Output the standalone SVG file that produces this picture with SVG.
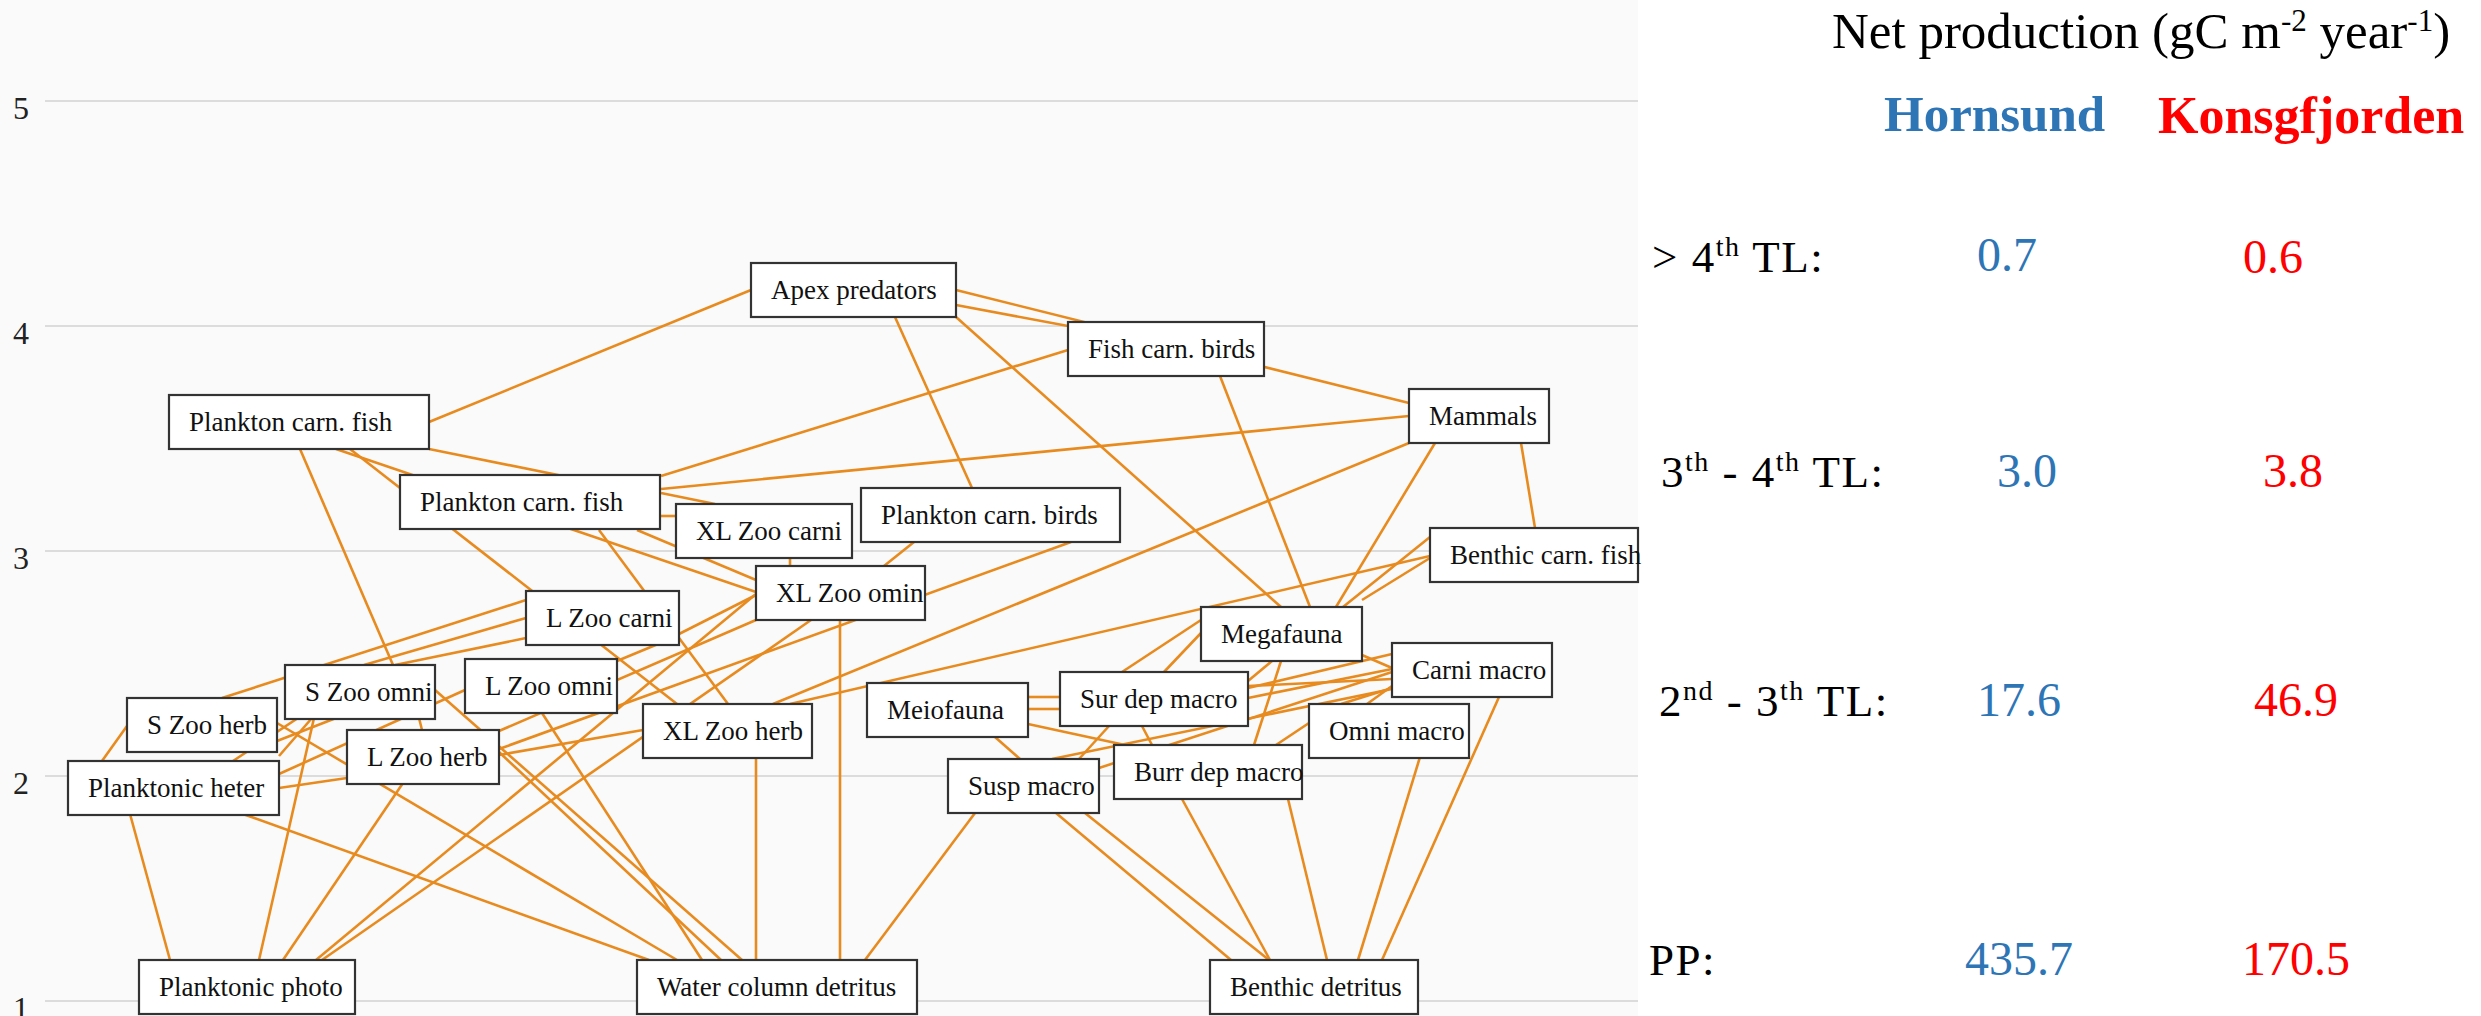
<svg xmlns="http://www.w3.org/2000/svg" width="2481" height="1016" viewBox="0 0 2481 1016">
<style>
.grid{stroke:#dcdcdc;stroke-width:2}
.edges line{stroke:#e88b1f;stroke-width:2.6}
.node rect{fill:#ffffff;stroke:#333333;stroke-width:2.2}
.node text{font-family:"Liberation Serif","Times New Roman",serif;font-size:27px;fill:#111}
.axis{font-family:"Liberation Serif",serif;font-size:32px;fill:#222}
.row{font-family:"Liberation Serif",serif;font-size:45px;fill:#000;letter-spacing:1.5px}
.num{font-family:"Liberation Serif",serif;font-size:48px}
.h{fill:#2e75b6}
.k{fill:#ff0000}
</style>
<rect x="0" y="0" width="2481" height="1016" fill="#ffffff"/>
<rect x="0" y="0" width="1638" height="1016" fill="#fafafa"/>
<g id="gridlines">
<line class="grid" x1="45" y1="101" x2="1638" y2="101"/>
<line class="grid" x1="45" y1="326" x2="1638" y2="326"/>
<line class="grid" x1="45" y1="551" x2="1638" y2="551"/>
<line class="grid" x1="45" y1="776" x2="1638" y2="776"/>
<line class="grid" x1="45" y1="1001" x2="1638" y2="1001"/>
</g>
<g id="axis-labels">
<text class="axis" x="13" y="119">5</text>
<text class="axis" x="13" y="344">4</text>
<text class="axis" x="13" y="569">3</text>
<text class="axis" x="13" y="794">2</text>
<text class="axis" x="13" y="1019">1</text>
</g>
<g id="connectors" class="edges">
<line x1="429" y1="422" x2="751" y2="290"/>
<line x1="429" y1="449" x2="563" y2="476"/>
<line x1="336" y1="449" x2="756" y2="592"/>
<line x1="350" y1="449" x2="677" y2="704"/>
<line x1="300" y1="449" x2="393" y2="665"/>
<line x1="956" y1="290" x2="1409" y2="403"/>
<line x1="956" y1="305" x2="1068" y2="326"/>
<line x1="895" y1="317" x2="972" y2="488"/>
<line x1="956" y1="317" x2="1281" y2="607"/>
<line x1="1068" y1="350" x2="661" y2="476"/>
<line x1="1220" y1="376" x2="1310" y2="607"/>
<line x1="1409" y1="416" x2="661" y2="489"/>
<line x1="1409" y1="443" x2="773" y2="704"/>
<line x1="1435" y1="443" x2="1336" y2="607"/>
<line x1="1521" y1="443" x2="1535" y2="528"/>
<line x1="1430" y1="537" x2="1343" y2="607"/>
<line x1="1430" y1="558" x2="1362" y2="600"/>
<line x1="1430" y1="556" x2="790" y2="704"/>
<line x1="914" y1="542" x2="884" y2="566"/>
<line x1="1071" y1="542" x2="499" y2="749"/>
<line x1="790" y1="557" x2="790" y2="566"/>
<line x1="660" y1="516" x2="676" y2="516"/>
<line x1="637" y1="530" x2="756" y2="580"/>
<line x1="599" y1="530" x2="728" y2="704"/>
<line x1="661" y1="493" x2="715" y2="504"/>
<line x1="756" y1="595" x2="679" y2="634"/>
<line x1="658" y1="644" x2="617" y2="661"/>
<line x1="756" y1="620" x2="499" y2="731"/>
<line x1="840" y1="620" x2="840" y2="960"/>
<line x1="322" y1="960" x2="811" y2="620"/>
<line x1="316" y1="960" x2="756" y2="594"/>
<line x1="130" y1="814" x2="170" y2="960"/>
<line x1="259" y1="960" x2="314" y2="718"/>
<line x1="283" y1="960" x2="403" y2="783"/>
<line x1="102" y1="761" x2="127" y2="726"/>
<line x1="243" y1="814" x2="649" y2="960"/>
<line x1="277" y1="723" x2="677" y2="960"/>
<line x1="435" y1="690" x2="742" y2="960"/>
<line x1="499" y1="752" x2="721" y2="960"/>
<line x1="542" y1="713" x2="702" y2="960"/>
<line x1="756" y1="757" x2="756" y2="960"/>
<line x1="975" y1="813" x2="865" y2="960"/>
<line x1="526" y1="600" x2="222" y2="698"/>
<line x1="526" y1="618" x2="364" y2="665"/>
<line x1="526" y1="638" x2="395" y2="665"/>
<line x1="643" y1="730" x2="499" y2="755"/>
<line x1="279" y1="774" x2="465" y2="690"/>
<line x1="279" y1="788" x2="347" y2="778"/>
<line x1="419" y1="718" x2="422" y2="730"/>
<line x1="298" y1="718" x2="233" y2="761"/>
<line x1="312" y1="718" x2="279" y2="756"/>
<line x1="277" y1="741" x2="336" y2="718"/>
<line x1="1056" y1="813" x2="1231" y2="960"/>
<line x1="1085" y1="813" x2="1269" y2="960"/>
<line x1="1182" y1="799" x2="1270" y2="960"/>
<line x1="1288" y1="799" x2="1327" y2="960"/>
<line x1="1420" y1="757" x2="1358" y2="960"/>
<line x1="1499" y1="697" x2="1382" y2="960"/>
<line x1="1028" y1="697" x2="1060" y2="697"/>
<line x1="1028" y1="709" x2="1060" y2="709"/>
<line x1="1028" y1="724" x2="1125" y2="745"/>
<line x1="995" y1="737" x2="1020" y2="759"/>
<line x1="1109" y1="726" x2="1079" y2="759"/>
<line x1="1142" y1="726" x2="1152" y2="745"/>
<line x1="1392" y1="672" x2="1099" y2="768"/>
<line x1="1392" y1="689" x2="1052" y2="759"/>
<line x1="1201" y1="620" x2="1122" y2="672"/>
<line x1="1201" y1="633" x2="1164" y2="672"/>
<line x1="1281" y1="661" x2="1254" y2="745"/>
<line x1="1272" y1="661" x2="1248" y2="681"/>
<line x1="1392" y1="654" x2="1248" y2="688"/>
<line x1="1392" y1="679" x2="1248" y2="686"/>
<line x1="1392" y1="669" x2="1248" y2="698"/>
<line x1="1392" y1="688" x2="1341" y2="704"/>
<line x1="1392" y1="686" x2="1367" y2="704"/>
<line x1="1309" y1="723" x2="1276" y2="745"/>
<line x1="1362" y1="655" x2="1392" y2="668"/>
</g>
<g id="n-pcf1" class="node"><rect x="169" y="395" width="260" height="54"/><text x="189" y="431">Plankton carn. fish</text></g>
<g id="n-pcf2" class="node"><rect x="400" y="475" width="260" height="54"/><text x="420" y="511">Plankton carn. fish</text></g>
<g id="n-apex" class="node"><rect x="751" y="263" width="205" height="54"/><text x="771" y="299">Apex predators</text></g>
<g id="n-fcb" class="node"><rect x="1068" y="322" width="196" height="54"/><text x="1088" y="358">Fish carn. birds</text></g>
<g id="n-mammals" class="node"><rect x="1409" y="389" width="140" height="54"/><text x="1429" y="425">Mammals</text></g>
<g id="n-pcb" class="node"><rect x="861" y="488" width="259" height="54"/><text x="881" y="524">Plankton carn. birds</text></g>
<g id="n-xlzc" class="node"><rect x="676" y="504" width="176" height="54"/><text x="696" y="540">XL Zoo carni</text></g>
<g id="n-xlzo" class="node"><rect x="756" y="566" width="169" height="54"/><text x="776" y="602">XL Zoo omin</text></g>
<g id="n-bcf" class="node"><rect x="1430" y="528" width="208" height="54"/><text x="1450" y="564">Benthic carn. fish</text></g>
<g id="n-lzc" class="node"><rect x="526" y="591" width="153" height="54"/><text x="546" y="627">L Zoo carni</text></g>
<g id="n-szo" class="node"><rect x="285" y="665" width="150" height="54"/><text x="305" y="701">S Zoo omni</text></g>
<g id="n-lzo" class="node"><rect x="465" y="659" width="152" height="54"/><text x="485" y="695">L Zoo omni</text></g>
<g id="n-szh" class="node"><rect x="127" y="698" width="150" height="54"/><text x="147" y="734">S Zoo herb</text></g>
<g id="n-lzh" class="node"><rect x="347" y="730" width="152" height="54"/><text x="367" y="766">L Zoo herb</text></g>
<g id="n-xlzh" class="node"><rect x="643" y="704" width="169" height="54"/><text x="663" y="740">XL Zoo herb</text></g>
<g id="n-ph" class="node"><rect x="68" y="761" width="211" height="54"/><text x="88" y="797">Planktonic heter</text></g>
<g id="n-pp" class="node"><rect x="139" y="960" width="216" height="54"/><text x="159" y="996">Planktonic photo</text></g>
<g id="n-wcd" class="node"><rect x="637" y="960" width="280" height="54"/><text x="657" y="996">Water column detritus</text></g>
<g id="n-mega" class="node"><rect x="1201" y="607" width="161" height="54"/><text x="1221" y="643">Megafauna</text></g>
<g id="n-cm" class="node"><rect x="1392" y="643" width="160" height="54"/><text x="1412" y="679">Carni macro</text></g>
<g id="n-sdm" class="node"><rect x="1060" y="672" width="188" height="54"/><text x="1080" y="708">Sur dep macro</text></g>
<g id="n-meio" class="node"><rect x="867" y="683" width="161" height="54"/><text x="887" y="719">Meiofauna</text></g>
<g id="n-om" class="node"><rect x="1309" y="704" width="160" height="54"/><text x="1329" y="740">Omni macro</text></g>
<g id="n-bdm" class="node"><rect x="1114" y="745" width="188" height="54"/><text x="1134" y="781">Burr dep macro</text></g>
<g id="n-sm" class="node"><rect x="948" y="759" width="151" height="54"/><text x="968" y="795">Susp macro</text></g>
<g id="n-bd" class="node"><rect x="1210" y="960" width="208" height="54"/><text x="1230" y="996">Benthic detritus</text></g>
<g id="legend">
<text x="1832" y="48" font-family="Liberation Serif, serif" font-size="51" fill="#000">Net production (gC m<tspan dy="-17" font-size="31">-2</tspan><tspan dy="17"> year</tspan><tspan dy="-17" font-size="31">-1</tspan><tspan dy="17">)</tspan></text>
<text x="1884" y="131" font-family="Liberation Serif, serif" font-size="51" font-weight="bold" fill="#2e75b6">Hornsund</text>
<text x="2158" y="133" font-family="Liberation Serif, serif" font-size="52" font-weight="bold" fill="#ff0000">Konsgfjorden</text>
<text class="row" x="1652" y="272">&gt; 4<tspan dy="-16" font-size="28">th</tspan><tspan dy="16"> TL:</tspan></text>
<text class="row" x="1661" y="487">3<tspan dy="-16" font-size="28">th</tspan><tspan dy="16"> - 4</tspan><tspan dy="-16" font-size="28">th</tspan><tspan dy="16"> TL:</tspan></text>
<text class="row" x="1659" y="716">2<tspan dy="-16" font-size="28">nd</tspan><tspan dy="16"> - 3</tspan><tspan dy="-16" font-size="28">th</tspan><tspan dy="16"> TL:</tspan></text>
<text class="row" x="1649" y="975">PP:</text>
<text class="num h" x="1977" y="271">0.7</text>
<text class="num k" x="2243" y="273">0.6</text>
<text class="num h" x="1997" y="487">3.0</text>
<text class="num k" x="2263" y="487">3.8</text>
<text class="num h" x="1977" y="716">17.6</text>
<text class="num k" x="2254" y="716">46.9</text>
<text class="num h" x="1965" y="975">435.7</text>
<text class="num k" x="2242" y="975">170.5</text>
</g>
</svg>
